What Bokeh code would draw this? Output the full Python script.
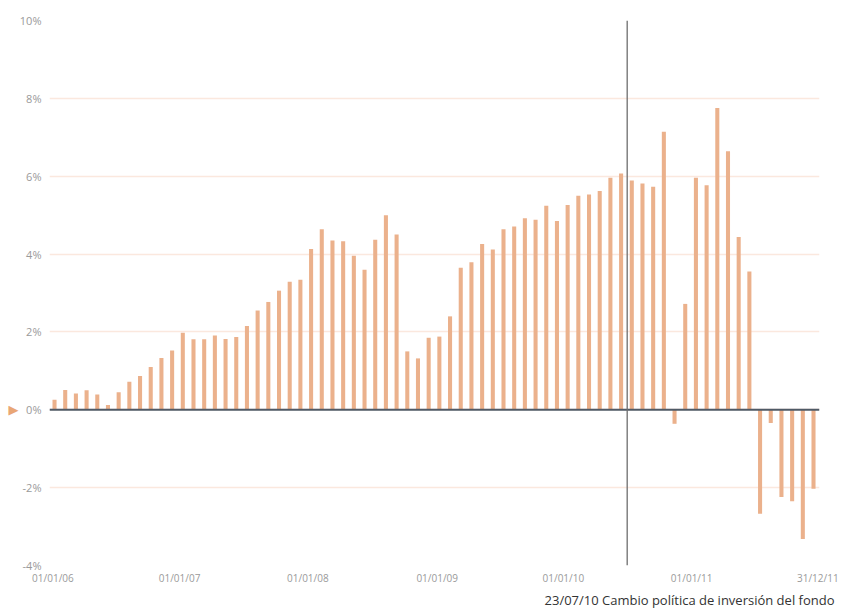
from bokeh.plotting import figure
from bokeh.models import Range1d, FixedTicker, PrintfTickFormatter, Span, LinearAxis, ColumnDataSource
from bokeh.embed import file_html
from bokeh.resources import INLINE

# Monthly returns (%) Jan 2006 - Dec 2011
returns = [
    0.26, 0.51, 0.42, 0.50, 0.39, 0.12, 0.45, 0.72, 0.87, 1.10, 1.33, 1.52,
    1.98, 1.81, 1.81, 1.91, 1.82, 1.87, 2.15, 2.55, 2.77, 3.06, 3.29, 3.34,
    4.13, 4.64, 4.35, 4.33, 3.96, 3.60, 4.37, 5.00, 4.50, 1.50, 1.32, 1.85,
    1.88, 2.40, 3.65, 3.79, 4.26, 4.12, 4.64, 4.71, 4.92, 4.88, 5.24, 4.85,
    5.26, 5.50, 5.53, 5.62, 5.96, 6.07, 5.89, 5.81, 5.73, 7.14, -0.36, 2.72,
    5.96, 5.77, 7.75, 6.64, 4.44, 3.55, -2.67, -0.34, -2.24, -2.35, -3.32, -2.03,
]
months = list(range(len(returns)))

x_tick_positions = [-0.15, 11.7, 23.7, 35.8, 47.6, 59.6, 71.4]
x_tick_labels = ["01/01/06", "01/01/07", "01/01/08", "01/01/09", "01/01/10", "01/01/11", "31/12/11"]
y_ticks = [-4, -2, 0, 2, 4, 6, 8, 10]
event_position = 53.57
event_text = "23/07/10 Cambio política de inversión del fondo"
event_text_position = 59.4
marker_text = "▶"

src = ColumnDataSource(data=dict(x=months, top=returns))

p = figure(width=847, height=611, output_backend="svg", toolbar_location=None,
           x_range=Range1d(-0.47, 71.56), y_range=Range1d(-4, 10),
           min_border_left=49, min_border_right=28, min_border_top=20, min_border_bottom=46)
p.outline_line_color = None
p.background_fill_color = "white"

p.vbar(x="x", top="top", bottom=0, width=0.38, source=src,
       fill_color="#ebb18c", line_color=None)

p.xgrid.grid_line_color = None
p.ygrid.grid_line_color = "#fbe8de"
p.ygrid.grid_line_width = 1.5
p.yaxis.ticker = FixedTicker(ticks=y_ticks)
p.yaxis.formatter = PrintfTickFormatter(format="%d%%")
p.xaxis.ticker = FixedTicker(ticks=x_tick_positions)
p.xaxis.major_label_overrides = {t: l for t, l in zip(x_tick_positions, x_tick_labels)}

def style_axis(ax, color, size, font="Open Sans", standoff=6):
    ax.axis_line_color = None
    ax.major_tick_line_color = None
    ax.minor_tick_line_color = None
    ax.major_tick_out = 0
    ax.major_tick_in = 0
    ax.minor_tick_out = 0
    ax.major_label_text_color = color
    ax.major_label_text_font = font
    ax.major_label_text_font_size = size
    ax.major_label_standoff = standoff

style_axis(p.yaxis[0], "#9a9a9a", "11px", standoff=8)
style_axis(p.xaxis[0], "#9a9a9a", "10px", standoff=5)

# orange marker at the zero level, left of the value labels
marker_axis = LinearAxis(ticker=FixedTicker(ticks=[0]), major_label_overrides={0: marker_text})
style_axis(marker_axis, "#e9a676", "13px", font="DejaVu Sans", standoff=-2)
p.add_layout(marker_axis, "left")

# event caption under the date labels
caption_axis = LinearAxis(ticker=FixedTicker(ticks=[event_text_position]),
                          major_label_overrides={event_text_position: event_text})
style_axis(caption_axis, "#333333", "13px", standoff=3)
p.add_layout(caption_axis, "below")

p.add_layout(Span(location=0, dimension="width", line_color="#4f5a66", line_width=2))
p.add_layout(Span(location=event_position, dimension="height", line_color="#6e6e6e", line_width=1.3))

open("out.html", "w").write(file_html(p, INLINE))
